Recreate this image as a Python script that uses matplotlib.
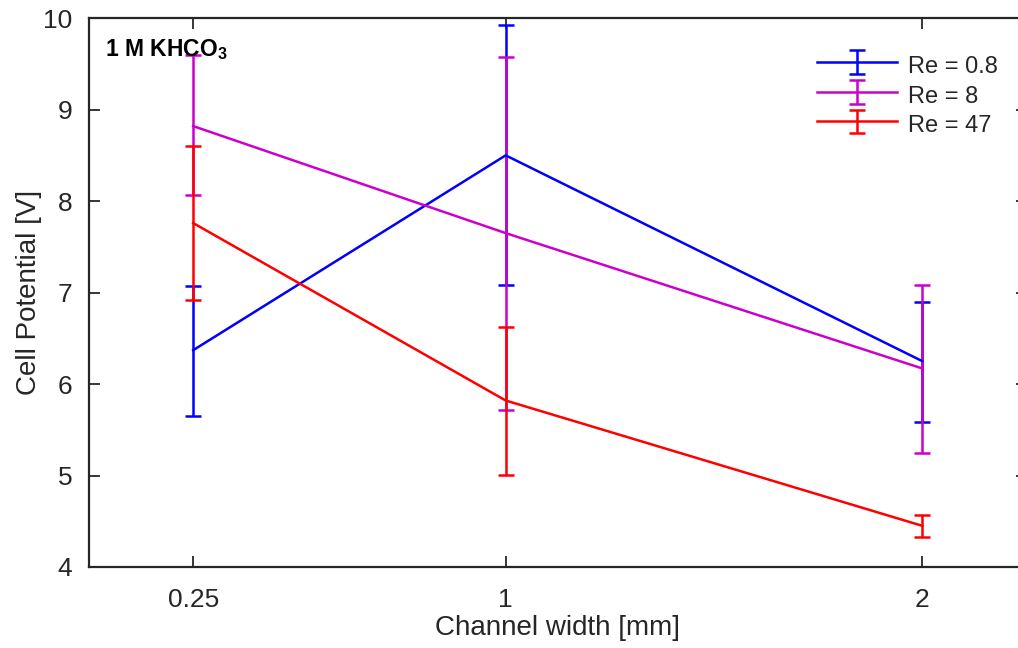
import numpy as np
import matplotlib
matplotlib.use("Agg")
import matplotlib.pyplot as plt

plt.rcParams['font.family'] = ['Liberation Sans', 'DejaVu Sans']
plt.rcParams['mathtext.fontset'] = 'custom'
plt.rcParams['mathtext.rm'] = 'Liberation Sans'
plt.rcParams['mathtext.bf'] = 'Liberation Sans:bold'

# channel width [mm]
ancho = [0.25, 1, 2]

# potencial de celda [V] y limites de las barras de error
re_08 = [6.37, 8.50, 6.25]
re_08_lo = [5.65, 7.08, 5.59]
re_08_hi = [7.07, 9.92, 6.90]

re_8 = [8.82, 7.65, 6.17]
re_8_lo = [8.07, 5.72, 5.25]
re_8_hi = [9.60, 9.58, 7.08]

re_47 = [7.76, 5.82, 4.45]
re_47_lo = [6.92, 5.01, 4.33]
re_47_hi = [8.60, 6.62, 4.57]

etiquetas = ['Re = 0.8', 'Re = 8', 'Re = 47']
colores = ['#0000ff', '#cc00cc', '#ff0000']

gris = '#262626'

fig = plt.figure(figsize=(10.18, 6.48), dpi=100)
ax = fig.add_axes([0.0874, 0.125, 0.921, 0.847])

series = [(re_08, re_08_lo, re_08_hi), (re_8, re_8_lo, re_8_hi), (re_47, re_47_lo, re_47_hi)]
for (y, lo, hi), lab, col in zip(series, etiquetas, colores):
    y = np.array(y)
    err = [y - np.array(lo), np.array(hi) - y]
    ax.errorbar(ancho, y, yerr=err, color=col, lw=1.8, elinewidth=1.8,
                capsize=5.8, capthick=1.8, label=lab)

ax.set_xlim(0, 2.25)
ax.set_ylim(4, 10)
ax.set_xticks(ancho)
ax.set_xticklabels(['0.25', '1', '2'])
ax.set_yticks(np.arange(4, 11, 1))

ax.tick_params(direction='in', length=8, width=1.3, colors=gris, labelsize=19,
               top=True, right=True)
ax.tick_params(axis='x', pad=15)
ax.tick_params(axis='y', pad=12)
for s in ax.spines.values():
    s.set_color(gris)
    s.set_linewidth(1.6)

ax.set_xlabel('Channel width [mm]', fontsize=20, color=gris, labelpad=2)
ax.set_ylabel('Cell Potential [V]', fontsize=20, color=gris, labelpad=1)

ax.text(0.017, 0.93, r'1 M KHCO$_\mathbf{3}$', transform=ax.transAxes,
        fontsize=16.5, fontweight='bold', color='black')

leg = ax.legend(loc='upper right', bbox_to_anchor=(0.992, 0.978), frameon=False,
                fontsize=17, handlelength=3.4, handleheight=1.4,
                handletextpad=0.45, labelspacing=0.1)
for t in leg.get_texts():
    t.set_color(gris)

fig.savefig('out.png', dpi=100)
